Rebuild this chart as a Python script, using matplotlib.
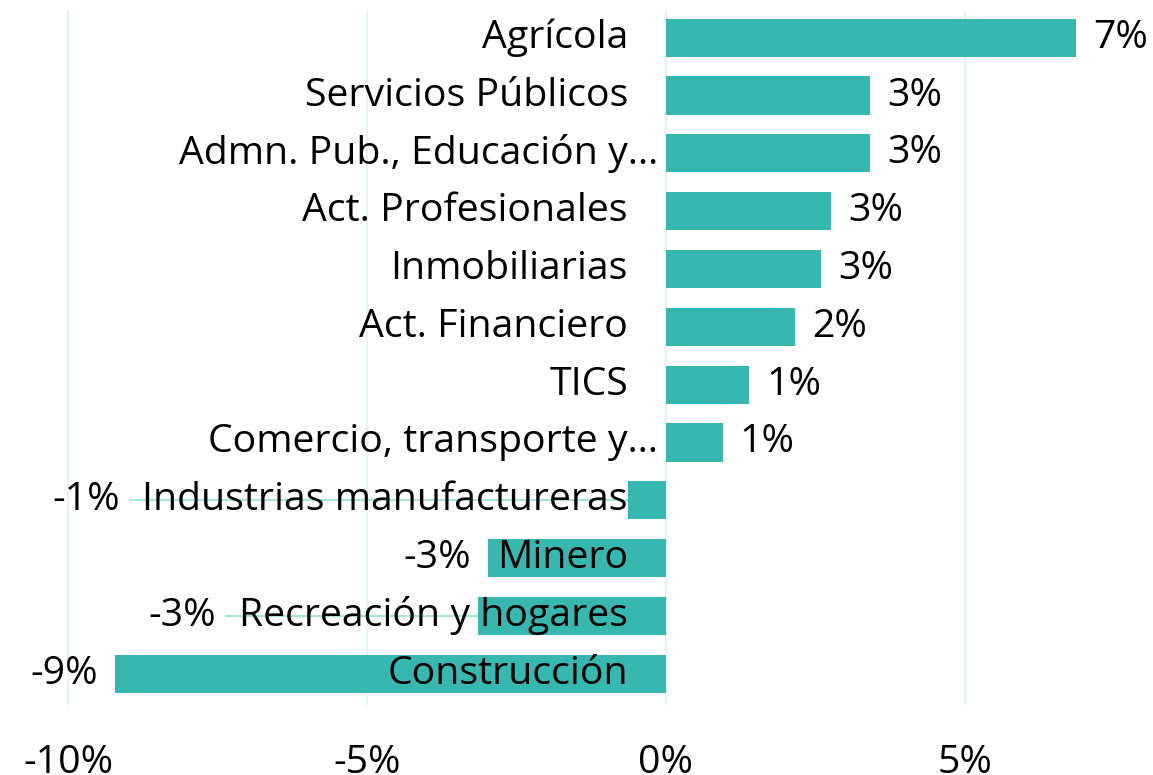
import matplotlib
matplotlib.use("Agg")
import matplotlib.pyplot as plt

categories = ["Agrícola", "Servicios Públicos", "Admn. Pub., Educación y…",
              "Act. Profesionales", "Inmobiliarias", "Act. Financiero", "TICS",
              "Comercio, transporte y…", "Industrias manufactureras", "Minero",
              "Recreación y hogares", "Construcción"]
values = [6.86, 3.41, 3.41, 2.76, 2.59, 2.16, 1.39, 0.95, -0.64, -2.98, -3.14, -9.21]
xticks = [-10, -5, 0, 5]
xticklabels = ["-10%", "-5%", "0%", "5%"]

BAR = "#36B7AF"
GRID = "#DDF3F1"
LEADER = "#A9E4DF"
FONT = "Open Sans"
FS = 28.3

W, H = 1153, 775
fig = plt.figure(figsize=(W / 100, H / 100), dpi=100)
x0, x1 = 0, 1153
y_top, y_bot = 10, 705
ax = fig.add_axes([x0 / W, 1 - y_bot / H, (x1 - x0) / W, (y_bot - y_top) / H])
ppu = 59.8
ax.set_xlim((x0 - 666) / ppu, (x1 - 666) / ppu)
n = len(categories)
ypos = list(range(n - 1, -1, -1))
ax.set_ylim(-0.54, n - 1 + 0.48)

ax.barh(ypos, values, height=0.66, color=BAR, zorder=2)
ax.set_xticks(xticks)
ax.set_xticklabels(xticklabels, fontsize=FS, family=FONT)
ax.tick_params(axis="x", length=0, pad=28)
ax.set_yticks([])
ax.grid(axis="x", color=GRID, linewidth=1.2, zorder=0)
for s in ax.spines.values():
    s.set_visible(False)

fig.canvas.draw()
renderer = fig.canvas.get_renderer()
inv = ax.transData.inverted()
for y, c, v in zip(ypos, categories, values):
    off = -8 if c.endswith("…") else -38
    t = ax.annotate(c, (0, y), xytext=(off, 0), textcoords="offset pixels",
                    ha="right", va="center", fontsize=FS, family=FONT, zorder=4,
                    annotation_clip=False)
    lab = f"{round(v):d}%"
    if v >= 0:
        ax.annotate(lab, (v, y), xytext=(17, 0), textcoords="offset pixels",
                    ha="left", va="center", fontsize=FS, family=FONT, zorder=4,
                    annotation_clip=False)
    else:
        fig.canvas.draw()
        tb = t.get_window_extent(renderer)
        bar_px, ymid = ax.transData.transform((v, y))
        right = min(bar_px - 17, tb.x0 - 23)
        vl = ax.annotate(lab, xy=(right, ymid), xycoords="figure pixels",
                         ha="right", va="center", fontsize=FS, family=FONT,
                         zorder=4, annotation_clip=False)
        fig.canvas.draw()
        eb = vl.get_window_extent(renderer)
        if bar_px - eb.x1 > 25:
            xs = inv.transform((eb.x1 + 9, ymid))[0]
            ax.plot([xs, v], [y, y], color=LEADER, linewidth=1.6, zorder=1,
                    solid_capstyle="butt")

fig.savefig("out.png", dpi=100)
